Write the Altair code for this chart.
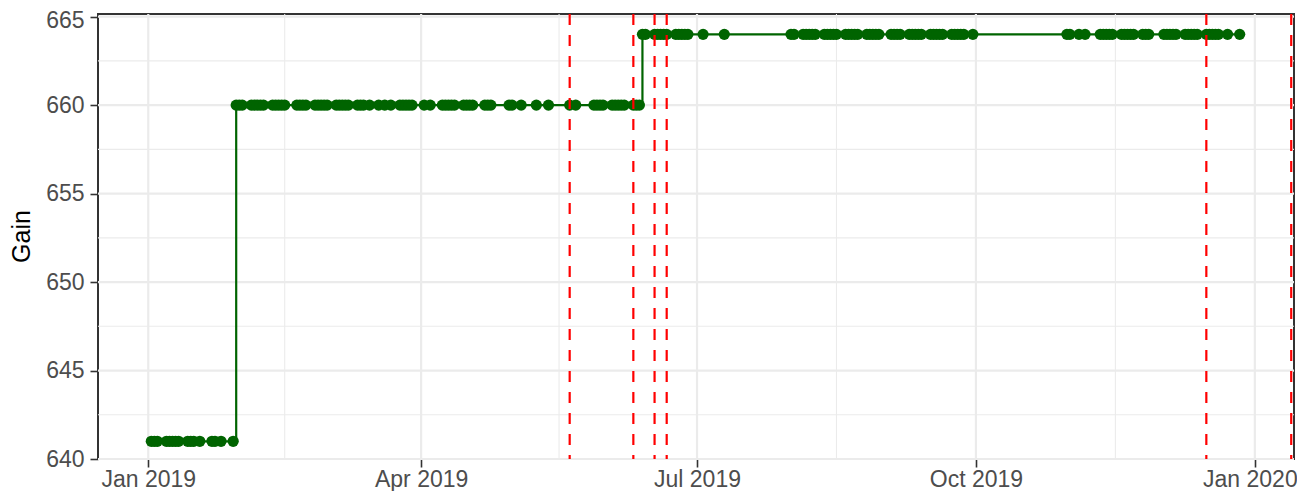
import altair as alt
import pandas as pd

# ---- data ----
dates_641 = ["2019-01-02", "2019-01-03", "2019-01-04", "2019-01-07", "2019-01-08",
             "2019-01-09", "2019-01-10", "2019-01-11", "2019-01-14", "2019-01-15",
             "2019-01-16", "2019-01-18", "2019-01-22", "2019-01-23", "2019-01-25",
             "2019-01-29"]
dates_660 = ["2019-01-30", "2019-01-31", "2019-02-01", "2019-02-04", "2019-02-05",
             "2019-02-06", "2019-02-07", "2019-02-08", "2019-02-11", "2019-02-12",
             "2019-02-13", "2019-02-14", "2019-02-15", "2019-02-19", "2019-02-20",
             "2019-02-21", "2019-02-22", "2019-02-25", "2019-02-26", "2019-02-27",
             "2019-02-28", "2019-03-01", "2019-03-04", "2019-03-05", "2019-03-06",
             "2019-03-07", "2019-03-08", "2019-03-11", "2019-03-12", "2019-03-13",
             "2019-03-15", "2019-03-18", "2019-03-20", "2019-03-22", "2019-03-25",
             "2019-03-26", "2019-03-27", "2019-03-28", "2019-03-29", "2019-04-02",
             "2019-04-04", "2019-04-08", "2019-04-09", "2019-04-10", "2019-04-11",
             "2019-04-12", "2019-04-15", "2019-04-16", "2019-04-17", "2019-04-18",
             "2019-04-22", "2019-04-23", "2019-04-24", "2019-04-30", "2019-05-01",
             "2019-05-04", "2019-05-09", "2019-05-13", "2019-05-20", "2019-05-22",
             "2019-05-28", "2019-05-29", "2019-05-30", "2019-05-31", "2019-06-03",
             "2019-06-04", "2019-06-05", "2019-06-06", "2019-06-07", "2019-06-10",
             "2019-06-11", "2019-06-12"]
dates_664 = ["2019-06-13", "2019-06-14", "2019-06-17", "2019-06-18", "2019-06-19",
             "2019-06-20", "2019-06-21", "2019-06-24", "2019-06-25", "2019-06-26",
             "2019-06-27", "2019-06-28", "2019-07-03", "2019-07-10",
             "2019-08-01", "2019-08-02", "2019-08-05", "2019-08-06", "2019-08-07",
             "2019-08-08", "2019-08-09", "2019-08-12", "2019-08-13", "2019-08-14",
             "2019-08-15", "2019-08-16", "2019-08-19", "2019-08-20", "2019-08-21",
             "2019-08-22", "2019-08-23", "2019-08-26", "2019-08-27", "2019-08-28",
             "2019-08-29", "2019-08-30", "2019-09-03", "2019-09-04", "2019-09-05",
             "2019-09-06", "2019-09-09", "2019-09-10", "2019-09-11", "2019-09-12",
             "2019-09-13", "2019-09-16", "2019-09-17", "2019-09-18", "2019-09-19",
             "2019-09-20", "2019-09-23", "2019-09-24", "2019-09-25", "2019-09-26",
             "2019-09-27", "2019-09-30",
             "2019-10-31", "2019-11-01", "2019-11-04", "2019-11-06", "2019-11-11",
             "2019-11-12", "2019-11-13", "2019-11-14", "2019-11-15", "2019-11-18",
             "2019-11-19", "2019-11-20", "2019-11-21", "2019-11-22", "2019-11-25",
             "2019-11-26", "2019-11-27", "2019-12-02", "2019-12-03", "2019-12-04",
             "2019-12-05", "2019-12-06", "2019-12-09", "2019-12-10", "2019-12-11",
             "2019-12-12", "2019-12-13", "2019-12-16", "2019-12-17", "2019-12-18",
             "2019-12-19", "2019-12-20", "2019-12-23", "2019-12-27"]
gain_levels = [641, 660, 664]

event_dates = ["2019-05-20", "2019-06-10", "2019-06-17", "2019-06-21",
               "2019-12-16", "2020-01-13"]

x_breaks = ["2019-01-01", "2019-04-01", "2019-07-01", "2019-10-01", "2020-01-01"]
x_minor = ["2019-02-15 00:00", "2019-05-16 12:00", "2019-08-16 00:00", "2019-11-16 00:00"]
y_breaks = [640, 645, 650, 655, 660, 665]
y_minor = [642.5, 647.5, 652.5, 657.5, 662.5]

# ---- tables ----
rows = []
for lvl, ds in zip(gain_levels, [dates_641, dates_660, dates_664]):
    for d in ds:
        rows.append({"date": pd.Timestamp(d), "gain": lvl})
df = pd.DataFrame(rows).sort_values("date")

ev = pd.DataFrame({"date": [pd.Timestamp(d) for d in event_dates]})
xmaj = pd.DataFrame({"date": [pd.Timestamp(d) for d in x_breaks]})
xmin = pd.DataFrame({"date": [pd.Timestamp(d) for d in x_minor]})
ymaj = pd.DataFrame({"gain": y_breaks})
ymin = pd.DataFrame({"gain": y_minor})

GREEN = "#006400"
GRID = "#EBEBEB"
FONT = "Liberation Sans"

xscale = alt.Scale(domain=[alt.DateTime(year=2018, month=12, date=15, hours=10),
                           alt.DateTime(year=2020, month=1, date=13, hours=22)])
yscale = alt.Scale(domain=[640.0, 665.15], nice=False, zero=False)

xaxis = alt.Axis(values=[alt.DateTime(year=int(s[:4]), month=int(s[5:7]), date=1) for s in x_breaks],
                 format="%b %Y", title=None, grid=False, domain=False,
                 tickColor="#333333", tickWidth=1.6, tickSize=8,
                 labelColor="#4D4D4D", labelFontSize=23, labelFont=FONT,
                 labelPadding=1, labelFlush=False,
                 labelOffset={"condition": {"test": "year(datum.value) == 2020", "value": -5},
                              "value": 0})
yaxis = alt.Axis(values=y_breaks, title="Gain", grid=False, domain=False,
                 tickColor="#333333", tickWidth=1.6, tickSize=8,
                 labelColor="#4D4D4D", labelFontSize=23, labelFont=FONT,
                 labelPadding=6,
                 labelOffset={"condition": {"test": "datum.value == 665", "value": 4},
                              "value": 0},
                 titleFont=FONT, titleFontSize=25,
                 titleFontWeight="normal", titleColor="#000000",
                 titleX=-76.5, titleY=222, titleAngle=270, titleBaseline="middle",
                 titleAlign="center")

X = alt.X("date:T", scale=xscale, axis=xaxis)
Y = alt.Y("gain:Q", scale=yscale, axis=yaxis)

g_xmin = alt.Chart(xmin).mark_rule(color=GRID, strokeWidth=1.1).encode(x=X)
g_xmaj = alt.Chart(xmaj).mark_rule(color=GRID, strokeWidth=2.2).encode(x=X)
g_ymin = alt.Chart(ymin).mark_rule(color=GRID, strokeWidth=1.1).encode(y=Y)
g_ymaj = alt.Chart(ymaj).mark_rule(color=GRID, strokeWidth=2.2).encode(y=Y)

line = alt.Chart(df).mark_line(color=GREEN, strokeWidth=2.2, interpolate="step-after").encode(
    x=X, y=Y)
pts = alt.Chart(df).mark_circle(color=GREEN, size=126, opacity=1).encode(x=X, y=Y)
vlines = alt.Chart(ev).mark_rule(color="#FF0000", strokeWidth=2.2, strokeDash=[11, 10]).encode(x=X)

chart = alt.layer(g_xmin, g_xmaj, g_ymin, g_ymaj, line, pts, vlines).properties(
    width=1196, height=445,
    autosize=alt.AutoSizeParams(type="none"),
    padding={"left": 90, "top": 6, "right": 3, "bottom": 32},
).configure_view(stroke="#333333", strokeWidth=2)

chart.save("out.html", embed_options={"renderer": "svg", "actions": False})
